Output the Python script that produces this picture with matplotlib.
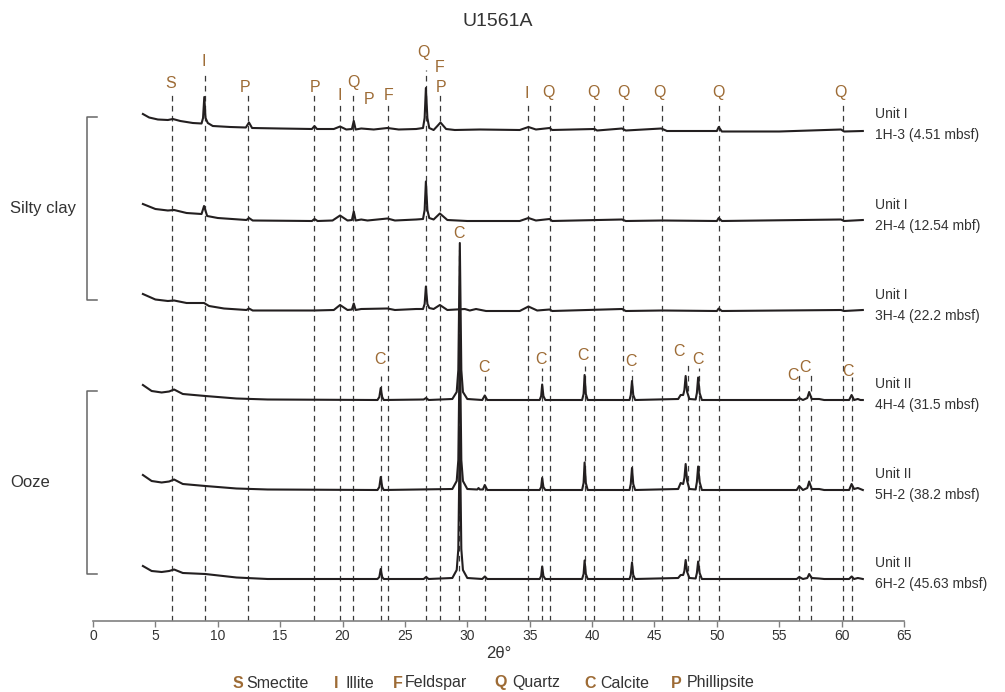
import matplotlib.pyplot as plt
from matplotlib.lines import Line2D

plt.rcParams['font.family'] = ['Liberation Sans', 'DejaVu Sans']

# XRD patterns: (2theta, intensity above own baseline)
trace_1h3 = [(4.0, 16), (4.5, 12.5), (5.2, 10.5), (6.0, 10), (6.4, 11), (7.0, 9), (8.0, 7),
             (8.7, 6.5), (8.82, 12), (8.92, 33), (9.02, 12), (9.2, 7), (9.6, 4), (11.0, 3),
             (12.25, 2.5), (12.5, 7.5), (12.75, 2), (15.0, 1.5), (17.55, 1), (17.75, 4),
             (17.95, 1), (19.3, 1), (19.8, 3.5), (20.3, 0.5), (20.75, 1), (20.9, 9),
             (21.05, 0.5), (21.5, 1.5), (22.5, 0.5), (23.6, 2), (24.5, 0.5), (25.9, 1),
             (26.45, 2), (26.58, 12), (26.68, 42), (26.8, 12), (26.95, 2), (27.3, 0),
             (27.6, 4), (27.85, 7.5), (28.3, 1), (29.0, 0), (31.0, 0.5), (34.2, 0),
             (34.9, 3), (35.5, 0.5), (36.6, 2), (36.8, 0), (40.2, 1), (40.4, -0.5),
             (42.4, 1.5), (42.7, -0.5), (45.55, 1.5), (46.0, -1), (50.0, -1), (50.15, 3),
             (50.4, -1.5), (55.0, -1.5), (59.95, 0.5), (60.2, -1.5), (61.7, -1)]

trace_2h4 = [(4.0, 17), (5.0, 12), (6.0, 10.5), (6.5, 11), (7.5, 8), (8.7, 7), (8.9, 15),
             (9.15, 5), (10.0, 3), (12.3, 1), (12.5, 3), (12.8, 0.5), (17.55, 0),
             (17.75, 2), (18.0, 0), (19.2, 0.5), (19.8, 5.5), (20.4, 0.5), (20.75, 1),
             (20.9, 9.5), (21.05, 0.5), (21.5, 1.5), (22.0, 0.5), (23.6, 2.5), (24.2, 0.5),
             (25.9, 1.5), (26.45, 2), (26.58, 11), (26.68, 39.5), (26.8, 11), (26.95, 3),
             (27.3, 1.5), (27.8, 7.5), (28.4, 1), (30.0, 0), (34.2, 0), (34.9, 3),
             (35.5, 0.5), (36.6, 2), (36.8, 0), (42.4, 1.5), (42.7, 0), (45.6, 0.5),
             (50.0, 0), (50.15, 3), (50.4, 0), (59.95, 1.5), (60.2, 0), (61.7, 1)]

trace_3h4 = [(4.0, 17), (5.0, 11.5), (6.0, 10), (6.5, 10.5), (7.5, 8), (8.9, 8), (9.3, 5),
             (10.5, 2.5), (12.3, 1), (12.5, 2.5), (12.8, 0.5), (17.7, 0.5), (19.3, 1),
             (19.8, 6), (20.4, 1), (20.75, 1.5), (20.9, 7.5), (21.05, 1), (21.5, 2),
             (23.6, 2.5), (24.2, 1), (25.9, 2), (26.45, 2), (26.58, 7), (26.68, 24.5),
             (26.8, 7), (26.95, 3), (27.3, 2), (27.8, 6), (28.4, 1), (29.8, 2), (30.2, 0.5),
             (30.7, 2), (31.5, 0), (34.2, 0), (34.9, 4.5), (35.6, 0.5), (36.6, 1.5),
             (36.8, 0), (42.4, 2), (42.7, 0), (45.6, 0.5), (50.0, 0), (50.15, 2.5),
             (50.4, 0), (59.95, 1), (60.2, 0), (61.7, 1)]

trace_4h4 = [(4.0, 15), (4.7, 9), (5.5, 7.5), (6.1, 8.5), (6.5, 10.5), (7.2, 6), (9.0, 4),
             (11.5, 1.5), (14.0, 0.5), (22.8, 0), (22.95, 3), (23.06, 12), (23.18, 3),
             (23.3, 0), (26.5, 0.5), (26.7, 2), (26.9, 0), (28.8, 1), (29.15, 8),
             (29.28, 30), (29.4, 157), (29.52, 30), (29.65, 8), (30.0, 1), (31.2, 0),
             (31.4, 4.5), (31.6, 0), (35.8, 0), (35.92, 4), (36.0, 15.5), (36.1, 4),
             (36.25, 0), (39.2, 0), (39.32, 6), (39.4, 25), (39.5, 6), (39.65, 0),
             (43.0, 0), (43.1, 5), (43.2, 19), (43.3, 5), (43.45, 0), (46.9, 1), (47.1, 5),
             (47.3, 5), (47.4, 10), (47.5, 24), (47.62, 8), (47.8, 1), (48.3, 0.5),
             (48.4, 7), (48.5, 22.5), (48.62, 7), (48.8, 0), (56.4, 0), (56.6, 2),
             (56.9, 0), (57.25, 2), (57.4, 8), (57.6, 1), (58.2, 1), (58.6, 0), (60.6, 0),
             (60.8, 5), (61.0, 0), (61.3, 1), (61.5, 0), (61.7, 0)]

trace_5h2 = [(4.0, 15), (4.7, 9), (5.5, 7.5), (6.1, 8.5), (6.5, 10.5), (7.2, 6), (9.0, 4),
             (11.5, 1.5), (14.0, 0.5), (22.8, 0), (22.95, 3), (23.06, 13), (23.18, 3),
             (23.3, 0), (28.8, 1), (29.15, 9), (29.28, 30), (29.4, 155), (29.52, 30),
             (29.65, 9), (30.0, 1), (30.8, 0.5), (30.9, 2), (31.0, 0.5), (31.25, 0.5),
             (31.4, 5), (31.6, 0), (35.8, 0), (35.92, 3), (36.0, 12), (36.1, 3),
             (36.25, 0), (39.2, 0), (39.32, 7), (39.4, 27.5), (39.5, 7), (39.65, 0),
             (43.0, 0), (43.1, 6), (43.2, 22), (43.3, 6), (43.45, 0), (46.9, 1),
             (47.1, 7), (47.3, 6), (47.4, 12), (47.5, 26), (47.62, 9), (47.8, 1),
             (48.3, 0.5), (48.4, 8), (48.5, 23.5), (48.62, 8), (48.8, 0), (56.4, 0),
             (56.6, 4), (56.9, 0), (57.25, 2), (57.4, 8.5), (57.6, 1), (58.2, 1),
             (58.6, 0), (60.6, 0), (60.8, 6), (61.0, 1), (61.3, 2), (61.7, 0)]

trace_6h2 = [(4.0, 13), (4.7, 8), (5.5, 7), (6.1, 8), (6.5, 9.5), (7.2, 6), (9.0, 5),
             (11.5, 1.5), (14.0, 0), (22.8, 0), (22.95, 2), (23.06, 10), (23.18, 2),
             (23.3, 0), (26.5, 0), (26.7, 2), (26.9, 0), (28.8, 1), (29.15, 9),
             (29.28, 30), (29.4, 150), (29.52, 30), (29.65, 9), (30.0, 1), (31.2, 0),
             (31.4, 2.5), (31.6, 0), (35.8, 0), (35.92, 3), (36.0, 12.5), (36.1, 3),
             (36.25, 0), (39.2, 0), (39.32, 5), (39.4, 18.5), (39.5, 5), (39.65, 0),
             (43.0, 0), (43.1, 4), (43.2, 16.5), (43.3, 4), (43.45, 0), (46.9, 1),
             (47.1, 4), (47.3, 4), (47.4, 8), (47.5, 19), (47.62, 7), (47.8, 1),
             (48.3, 0.5), (48.4, 6), (48.5, 17.5), (48.62, 6), (48.8, 0), (56.4, 0),
             (56.6, 2), (56.9, 0), (57.25, 1), (57.4, 5), (57.6, 1), (58.2, 0.5),
             (58.6, 0), (60.6, 0), (60.8, 2.5), (61.0, 0), (61.3, 1), (61.7, 0)]

traces = [trace_1h3, trace_2h4, trace_3h4, trace_4h4, trace_5h2, trace_6h2]
units = ['Unit I', 'Unit I', 'Unit I', 'Unit II', 'Unit II', 'Unit II']
samples = ['1H-3 (4.51 mbsf)', '2H-4 (12.54 mbf)', '3H-4 (22.2 mbsf)',
           '4H-4 (31.5 mbsf)', '5H-2 (38.2 mbsf)', '6H-2 (45.63 mbsf)']

# mineral reference lines (2theta) and their labels
top_lines = [6.32, 8.94, 12.46, 17.74, 19.77, 20.86, 23.61, 26.68, 27.81,
             34.9, 36.66, 40.18, 42.44, 45.64, 50.2, 60.09]
calcite_lines = [23.07, 29.35, 31.38, 35.98, 39.46, 43.2, 47.67, 48.58, 56.57, 57.56, 60.81]
top_labels = ['S', 'I', 'P', 'P', 'I', 'Q', 'P', 'F', 'Q', 'F', 'P',
              'I', 'Q', 'Q', 'Q', 'Q', 'Q', 'Q']
top_label_x = [6.22, 8.9, 12.18, 17.8, 19.8, 20.9, 22.1, 23.66, 26.5, 27.8, 27.86,
               34.8, 36.5, 40.1, 42.5, 45.4, 50.1, 59.9]
calcite_label_x = [23.0, 29.33, 31.3, 35.9, 39.3, 43.1, 47.0, 48.45, 56.1, 57.1, 60.5]

legend_letters = ['S', 'I', 'F', 'Q', 'C', 'P']
legend_names = ['Smectite', 'Illite', 'Feldspar', 'Quartz', 'Calcite', 'Phillipsite']

# layout (pixel based, figure is 1005x692)
W, H = 1005, 692
AX_TOP = 40
AX_BOTTOM = 621
base_pix = [130, 221, 311, 400, 490, 579]
top_line_top = [93, 71, 93, 95, 102, 93, 102, 70, 95, 105, 105, 105, 105, 105, 105, 105]
calcite_line_top = [376, 250, 376, 368, 366, 370, 365, 368, 373, 373, 377]
top_label_y = [83, 61, 88, 88, 95, 83, 100, 95, 52, 68, 88, 94, 92, 92, 92, 92, 92, 92]
calcite_label_y = [360, 234, 367, 360, 355, 362, 351, 360, 376, 368, 372]
legend_x = [(233, 246), (334, 345), (393, 405), (494, 512), (584, 600), (671, 687)]

brown = '#9d6b35'
ink = '#231f20'

fig = plt.figure(figsize=(W / 100, H / 100), dpi=100)
ax = fig.add_axes([93 / W, (H - AX_BOTTOM) / H, 811 / W, (AX_BOTTOM - AX_TOP) / H])
ax.set_xlim(0, 65)
ax.set_ylim(0, AX_BOTTOM - AX_TOP)


def py(pix):
    return AX_BOTTOM - pix


dash = (0, (4.5, 3.5))
for x, top in zip(top_lines, top_line_top):
    ax.plot([x, x], [0, py(top)], color='#3a3a3a', lw=0.9, ls=dash, zorder=1)
for x, top in zip(calcite_lines, calcite_line_top):
    ax.plot([x, x], [0, py(top)], color='#3a3a3a', lw=0.9, ls=dash, zorder=1)

for tr, bp in zip(traces, base_pix):
    xs = [p[0] for p in tr]
    ys = [p[1] + py(bp) for p in tr]
    ax.plot(xs, ys, color=ink, lw=1.5, zorder=3, solid_joinstyle='round')

for lab, x, y in zip(top_labels, top_label_x, top_label_y):
    ax.text(x, py(y), lab, color=brown, fontsize=11.5, ha='center', va='center')
for x, y in zip(calcite_label_x, calcite_label_y):
    ax.text(x, py(y), 'C', color=brown, fontsize=11.5, ha='center', va='center')

for u, s, bp in zip(units, samples, base_pix):
    ax.text(62.7, py(bp - 16), u, fontsize=10, color='#333333', ha='left', va='center', clip_on=False)
    ax.text(62.7, py(bp + 5), s, fontsize=10, color='#333333', ha='left', va='center', clip_on=False)

for s in ['left', 'right', 'top']:
    ax.spines[s].set_visible(False)
ax.spines['bottom'].set_color('#808080')
ax.spines['bottom'].set_linewidth(1.2)
ax.set_yticks([])
ax.set_xticks(range(0, 66, 5))
ax.tick_params(axis='x', direction='out', length=4, width=1, color='#808080',
               labelcolor='#333333', labelsize=10, pad=2)
ax.set_xlabel('2θ°', fontsize=12, color='#333333', labelpad=2)

fig.text(498 / W, 1 - 22 / H, 'U1561A', fontsize=14, color='#333333', ha='center', va='center')

# lithology brackets
for top, bot, label in [(117, 300, 'Silty clay'), (391, 574, 'Ooze')]:
    xs = [97 / W, 87 / W, 87 / W, 97 / W]
    ys = [1 - top / H, 1 - top / H, 1 - bot / H, 1 - bot / H]
    fig.add_artist(Line2D(xs, ys, color='#666666', lw=1.1))
    fig.text(10 / W, 1 - (top + bot) / 2 / H, label, fontsize=12, color='#333333',
             ha='left', va='center')

for (xl, xn), let, name in zip(legend_x, legend_letters, legend_names):
    fig.text(xl / W, 1 - 683 / H, let, fontsize=11.5, color=brown, weight='bold',
             ha='left', va='center')
    fig.text(xn / W, 1 - 683 / H, name, fontsize=11.5, color='#333333', ha='left', va='center')

fig.savefig('out.png', dpi=100)
